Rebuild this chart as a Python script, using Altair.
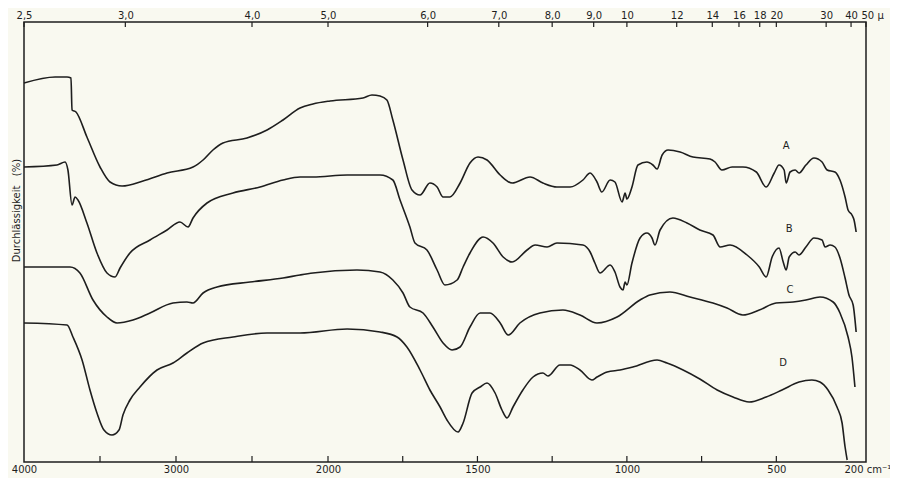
import altair as alt
import pandas as pd

# ---- data (wavenumber in cm-1, transmission in offset units) ----
A_wn = [4000, 3795, 3717, 3691, 3684, 3658, 3586, 3500, 3434, 3355, 3217, 3059, 2888, 2822, 2757, 2691,
        2533, 2401, 2296, 2184, 2099, 1993, 1883, 1853, 1826, 1803, 1783, 1749, 1719, 1692, 1659, 1635,
        1615, 1592, 1558, 1525, 1498, 1468, 1424, 1384, 1324, 1281, 1234, 1190, 1147, 1123, 1100, 1084,
        1056, 1040, 1016, 1006, 1000, 983, 963, 933, 913, 899, 882, 862, 822, 779, 722, 705, 682, 648,
        612, 567, 534, 507, 491, 474, 467, 454, 437, 424, 401, 374, 347, 330, 304, 287, 270, 260, 247, 240, 233]
A_v = [379, 385, 385, 384, 352, 350, 325, 295, 280, 276, 281, 289, 295, 302, 312, 319,
       324, 332, 342, 354, 358, 361, 364, 367, 366, 362, 342, 302, 272, 267, 279, 275,
       265, 265, 279, 299, 305, 302, 287, 279, 285, 279, 275, 275, 282, 289, 280, 270,
       282, 280, 260, 269, 263, 275, 297, 300, 297, 293, 307, 312, 310, 305, 303, 300, 292, 295,
       295, 290, 275, 289, 297, 292, 279, 290, 292, 289, 297, 304, 300, 292, 290, 282, 265, 252, 247, 242, 230]

B_wn = [4000, 3783, 3730, 3711, 3684, 3664, 3645, 3586, 3520, 3454, 3401, 3368, 3303, 3171, 3059, 2974,
        2921, 2888, 2796, 2625, 2447, 2296, 2184, 2099, 1936, 1826, 1783, 1759, 1726, 1709, 1669, 1635,
        1609, 1568, 1548, 1525, 1481, 1448, 1414, 1384, 1334, 1307, 1267, 1234, 1147, 1123, 1107, 1090,
        1056, 1040, 1023, 1013, 1006, 1000, 983, 956, 933, 916, 906, 889, 846, 799, 756, 712, 688, 655,
        598, 557, 534, 514, 491, 477, 467, 457, 437, 424, 401, 374, 347, 337, 320, 304, 287, 270, 257, 243, 233]
B_v = [295, 297, 300, 292, 257, 265, 262, 239, 209, 189, 185, 194, 209, 222, 232, 240,
       235, 244, 259, 269, 275, 282, 285, 285, 287, 287, 282, 262, 235, 219, 212, 192,
       177, 182, 195, 209, 225, 219, 205, 200, 212, 217, 215, 219, 217, 210, 199, 189,
       197, 190, 175, 172, 180, 177, 199, 224, 229, 224, 217, 232, 244, 239, 232, 227, 215, 217,
       207, 195, 185, 205, 214, 200, 192, 205, 210, 207, 215, 224, 222, 215, 217, 215, 204, 184, 167, 157, 130]

C_wn = [4000, 3697, 3632, 3546, 3454, 3388, 3283, 3171, 3020, 2928, 2888, 2822, 2730, 2513, 2296, 2184,
        2099, 1903, 1826, 1783, 1749, 1726, 1682, 1649, 1615, 1585, 1558, 1525, 1491, 1458, 1424, 1397,
        1358, 1291, 1214, 1157, 1100, 1033, 956, 923, 856, 789, 712, 665, 612, 557, 501, 444, 401, 354,
        310, 287, 260, 247, 237]
C_v = [195, 195, 189, 162, 145, 139, 142, 149, 159, 160, 159, 169, 175, 180, 184, 187,
       189, 192, 190, 182, 169, 155, 149, 135, 119, 112, 115, 135, 149, 149, 139, 127,
       139, 149, 152, 147, 139, 145, 162, 167, 170, 165, 159, 154, 147, 152, 159, 160, 162, 165,
       160, 149, 125, 105, 75]

D_wn = [4000, 3717, 3678, 3618, 3566, 3520, 3474, 3421, 3375, 3349, 3303, 3237, 3125, 3020, 2928, 2822,
        2625, 2401, 2184, 1936, 1826, 1769, 1736, 1692, 1659, 1625, 1602, 1565, 1548, 1518, 1491, 1468,
        1441, 1418, 1401, 1381, 1348, 1314, 1281, 1264, 1224, 1190, 1157, 1117, 1100, 1066, 1023, 980,
        899, 866, 812, 756, 698, 645, 591, 534, 481, 424, 381, 354, 327, 297, 280, 270, 263]
D_v = [139, 137, 125, 102, 72, 49, 32, 27, 32, 47, 62, 75, 92, 99, 109, 119,
       125, 129, 129, 133, 130, 125, 115, 92, 72, 55, 42, 30, 39, 69, 75, 79,
       69, 52, 44, 55, 72, 85, 89, 86, 97, 97, 92, 82, 85, 90, 92, 95,
       102, 99, 92, 83, 72, 65, 60, 65, 72, 80, 82, 80, 72, 55, 39, 15, 2]

curve_names = ["A", "B", "C", "D"]
label_wn = [467, 457, 454, 477]
label_v = [316, 233, 172, 99]

bottom_label_values = [4000, 3000, 2000, 1500, 1000, 500, 200]
bottom_tick_values = [3500, 3000, 2500, 2000, 1750, 1500, 1250, 1000, 750, 500]
top_microns = [2.5, 3, 4, 5, 6, 7, 8, 9, 10, 12, 14, 16, 18, 20, 30, 40, 50]

# ---- tables ----
rows = []
for name, wn, v in zip(curve_names, [A_wn, B_wn, C_wn, D_wn], [A_v, B_v, C_v, D_v]):
    for a, b in zip(wn, v):
        rows.append({"curve": name, "wn": a, "v": b})
df = pd.DataFrame(rows)
lab_df = pd.DataFrame({"curve": curve_names, "wn": label_wn, "v": label_v})
bt_df = pd.DataFrame({"wn": bottom_tick_values})
top_wn = [10000.0 / m for m in top_microns]
tt_df = pd.DataFrame({"wn": top_wn})

W, H = 842, 440
INK = "#1e1e1e"
FONT = "DejaVu Sans"

xscale = alt.Scale(domain=[4000, 2000, 200], range=[0, 304, W], nice=False, zero=False)
yscale = alt.Scale(domain=[0, 440], nice=False, zero=False)

lines = alt.Chart(df).mark_line(color=INK, strokeWidth=1.6, interpolate="monotone").encode(
    x=alt.X("wn:Q", scale=xscale,
            axis=alt.Axis(values=bottom_label_values, format="d",
                          labelExpr="datum.value <= 200 ? '200 cm\u207b\u00b9' : datum.label",
                          ticks=False, domain=False, grid=False, title=None,
                          labelPadding=2, labelFontSize=10, labelOverlap=False, labelFlush=False,
                          labelAlign=alt.condition("datum.value <= 200", alt.value("left"), alt.value("center")),
                          labelOffset=alt.condition("datum.value <= 200", alt.value(-22), alt.value(0)))),
    y=alt.Y("v:Q", scale=yscale,
            axis=alt.Axis(title="Durchlässigkeit\u00a0\u00a0\u00a0(%)", labels=False, ticks=False,
                          domain=False, grid=False, titleX=-8, titleY=188, titleAngle=270,
                          titleAlign="center", titleBaseline="middle", titleFontSize=10,
                          titleFontWeight="normal")),
    detail="curve:N",
    order=alt.Order("wn:Q", sort="descending"),
)

bottom_ticks = alt.Chart(bt_df).mark_rule(color=INK, strokeWidth=1.2).encode(
    x=alt.X("wn:Q", scale=xscale, axis=None),
    y=alt.value(H), y2=alt.value(H - 6),
)

top_ticks = alt.Chart(tt_df).mark_rule(color=INK, strokeWidth=1.2).encode(
    x=alt.X("wn:Q", scale=xscale,
            axis=alt.Axis(orient="top", values=top_wn, ticks=False, domain=False, grid=False, title=None,
                          labelExpr="datum.value > 1001 ? replace(format(10000 / datum.value, '.1f'), '.', ',') : (datum.value < 201 ? '50 \u03bc' : format(10000 / datum.value, '.0f'))",
                          labelPadding=2, labelFontSize=10, labelOverlap=False, labelFlush=False,
                          labelAlign=alt.condition("datum.value < 201", alt.value("left"), alt.value("center")),
                          labelOffset=alt.condition("datum.value < 201", alt.value(-5), alt.value(0)))),
    y=alt.value(0), y2=alt.value(5),
)

letters = alt.Chart(lab_df).mark_text(color=INK, fontSize=10, font=FONT).encode(
    x=alt.X("wn:Q", scale=xscale, axis=None),
    y=alt.Y("v:Q", scale=yscale, axis=None),
    text="curve:N",
)

chart = alt.layer(lines, bottom_ticks, top_ticks, letters).resolve_axis(
    x="independent", y="independent"
).properties(
    width=W, height=H,
    autosize=alt.AutoSizeParams(type="none"),
    padding={"left": 16, "top": 14, "right": 24, "bottom": 16},
    background="#f9f9f0",
).configure_view(
    stroke=INK, strokeWidth=1.5
).configure_axis(
    labelFont=FONT, labelColor=INK, titleFont=FONT, titleColor=INK
)

chart.save("out.html", embed_options={"renderer": "svg", "actions": False})
